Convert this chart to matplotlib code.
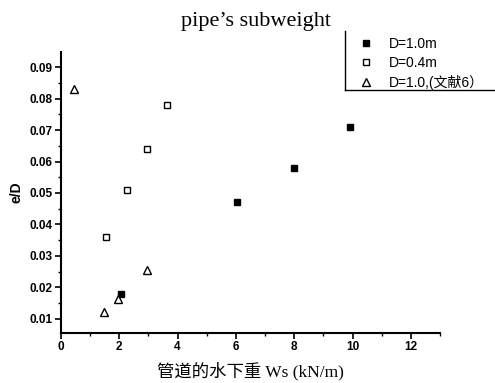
import matplotlib
matplotlib.use("Agg")
import matplotlib.pyplot as plt
from matplotlib.ticker import MultipleLocator
from matplotlib.lines import Line2D

# Data
d10_x = [2.05, 6.05, 8.0, 9.9]
d10_y = [0.018, 0.047, 0.058, 0.071]
d04_x = [1.55, 2.27, 2.95, 3.65]
d04_y = [0.036, 0.051, 0.064, 0.078]
lit_x = [0.45, 1.48, 1.96, 2.95]
lit_y = [0.083, 0.0122, 0.0164, 0.0254]
labels = ["D=1.0m", "D=0.4m", "D=1.0,(文献6）"]
xticks = [0, 2, 4, 6, 8, 10, 12]
yticks = [0.01, 0.02, 0.03, 0.04, 0.05, 0.06, 0.07, 0.08, 0.09]

fig = plt.figure(figsize=(4.95, 3.83), dpi=100)
ax = fig.add_axes([0.1232, 0.1305, 0.7657, 0.7337])

ax.plot(d10_x, d10_y, 's', ms=5, mfc='black', mec='black', mew=1.0, label=labels[0])
ax.plot(d04_x, d04_y, 's', ms=5, mfc='white', mec='black', mew=1.0, label=labels[1])
ax.plot(lit_x, lit_y, '^', ms=5.5, mfc='white', mec='black', mew=1.0, label=labels[2])

ax.set_xlim(0, 13)
ax.set_ylim(0.0055, 0.0948)
ax.set_xticks(xticks)
ax.set_yticks(yticks)
ax.xaxis.set_minor_locator(MultipleLocator(1))
ax.yaxis.set_minor_locator(MultipleLocator(0.005))
ax.set_xticklabels([str(t) for t in xticks], fontweight='bold', fontsize=8.5, family='Liberation Sans')
ax.set_yticklabels(["%.2f" % t for t in yticks], fontweight='bold', fontsize=8.5, family='Liberation Sans')
ax.tick_params(axis='both', which='major', direction='out', length=4, width=1.2, pad=2)
ax.tick_params(axis='both', which='minor', direction='out', length=2.5, width=1.0)
for s in ['top', 'right']:
    ax.spines[s].set_visible(False)
for s in ['left', 'bottom']:
    ax.spines[s].set_linewidth(1.5)

ax.set_xlabel("管道的水下重 Ws (kN/m)", fontsize=12.5,
              family=['Liberation Serif', 'Noto Sans CJK SC'], labelpad=6)
ax.set_ylabel("e/D", fontsize=10, fontweight='bold', family='Liberation Sans', labelpad=4)

fig.text(0.517, 0.945, "pipe\u2019s subweight", ha='center', va='center',
         fontsize=16, family='Liberation Serif')

leg = fig.legend(loc='upper left', bbox_to_anchor=(0.712, 0.918), frameon=False,
                 prop={'family': ['Liberation Sans', 'Noto Sans CJK SC'], 'size': 10},
                 handletextpad=1.0, labelspacing=0.35, handlelength=1.2, borderaxespad=0)

# legend frame lines (left and bottom)
fig.add_artist(Line2D([0.697, 0.697], [0.765, 0.918], color='black', lw=1.0, transform=fig.transFigure))
fig.add_artist(Line2D([0.697, 1.0], [0.765, 0.765], color='black', lw=1.0, transform=fig.transFigure))

fig.savefig("out.png", dpi=100)
